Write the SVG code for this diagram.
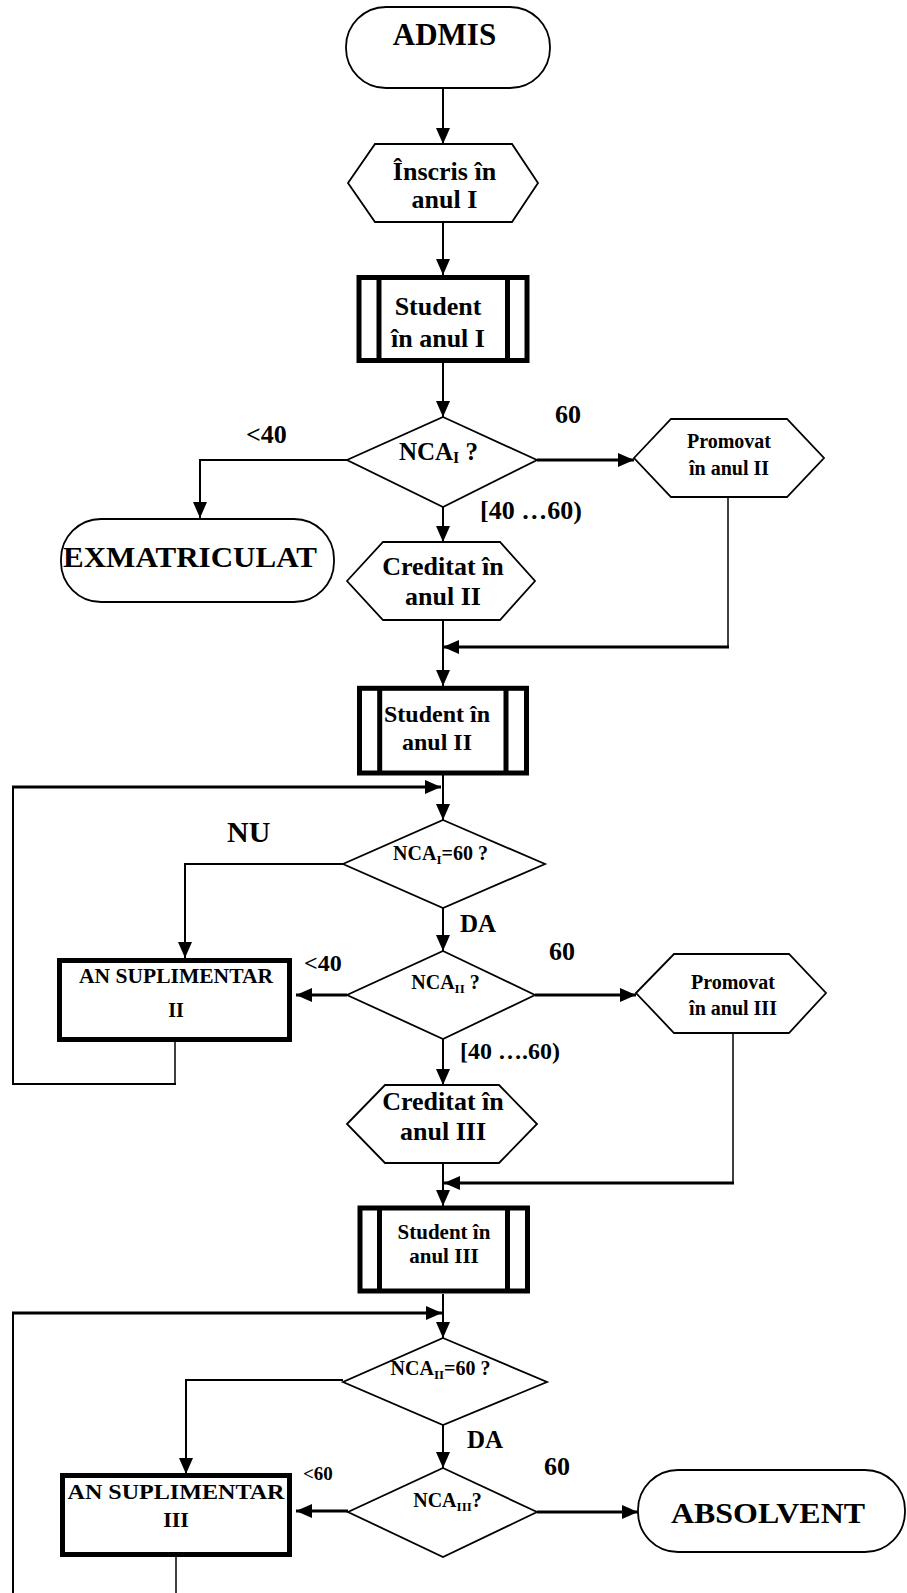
<svg xmlns="http://www.w3.org/2000/svg" width="907" height="1593" viewBox="0 0 907 1593">
<style>
.t{font-family:"Liberation Serif","Times New Roman",serif;font-weight:bold;fill:#000}
.m{text-anchor:middle}
.sh{fill:#fff;stroke:#000;stroke-width:1.8}
.box{fill:#fff;stroke:#000;stroke-width:5}
.bar{stroke:#000;stroke-width:5}
.c{fill:none;stroke:#000;stroke-width:2}
.ck{fill:none;stroke:#000;stroke-width:3}
.cn{fill:none;stroke:#000;stroke-width:1.5}
</style>
<defs>
<marker id="ah" markerUnits="userSpaceOnUse" markerWidth="16" markerHeight="14" refX="16" refY="7" orient="auto">
<path d="M0,0 L16,7 L0,14 z" fill="#000"/>
</marker>
</defs>
<rect width="907" height="1593" fill="#fff"/>

<g id="connectors">
<line class="c" x1="443" y1="88" x2="443" y2="144" marker-end="url(#ah)"/>
<line class="c" x1="443" y1="222" x2="443" y2="275" marker-end="url(#ah)"/>
<line class="c" x1="443" y1="363" x2="443" y2="417" marker-end="url(#ah)"/>
<polyline class="c" points="347,460 200,460 200,518" marker-end="url(#ah)"/>
<line class="ck" x1="537" y1="460" x2="634" y2="460" marker-end="url(#ah)"/>
<line class="c" x1="443" y1="507" x2="443" y2="542" marker-end="url(#ah)"/>
<line class="c" x1="443" y1="620" x2="443" y2="686" marker-end="url(#ah)"/>
<line class="cn" x1="728" y1="497" x2="728" y2="647"/>
<line class="ck" x1="729" y1="647" x2="443" y2="647" marker-end="url(#ah)"/>
<line class="c" x1="443" y1="775" x2="443" y2="820" marker-end="url(#ah)"/>
<polyline class="cn" points="175,1042 175,1084"/>
<polyline class="c" points="176,1084 13,1084 13,787"/>
<line class="ck" x1="12" y1="787" x2="441" y2="787" marker-end="url(#ah)"/>
<polyline class="c" points="343,864 185,864 185,958" marker-end="url(#ah)"/>
<line class="c" x1="443" y1="908" x2="443" y2="951" marker-end="url(#ah)"/>
<line class="ck" x1="347" y1="995" x2="296" y2="995" marker-end="url(#ah)"/>
<line class="ck" x1="535" y1="995" x2="636" y2="995" marker-end="url(#ah)"/>
<line class="c" x1="443" y1="1039" x2="443" y2="1085" marker-end="url(#ah)"/>
<line class="cn" x1="733" y1="1033" x2="733" y2="1183"/>
<line class="ck" x1="734" y1="1183" x2="444" y2="1183" marker-end="url(#ah)"/>
<line class="c" x1="443" y1="1163" x2="443" y2="1206" marker-end="url(#ah)"/>
<line class="c" x1="443" y1="1294" x2="443" y2="1338" marker-end="url(#ah)"/>
<line class="cn" x1="176" y1="1557" x2="176" y2="1593"/>
<line class="c" x1="13" y1="1593" x2="13" y2="1313"/>
<line class="ck" x1="12" y1="1313" x2="442" y2="1313" marker-end="url(#ah)"/>
<polyline class="c" points="343,1380 186,1380 186,1474" marker-end="url(#ah)"/>
<line class="c" x1="443" y1="1425" x2="443" y2="1468" marker-end="url(#ah)"/>
<line class="ck" x1="348" y1="1511" x2="296" y2="1511" marker-end="url(#ah)"/>
<line class="ck" x1="537" y1="1512" x2="638" y2="1512" marker-end="url(#ah)"/>
</g>

<g id="labels">
<text class="t" x="555" y="423" font-size="26">60</text>
<text class="t" x="246" y="443" font-size="26">&lt;40</text>
<text class="t" x="480" y="519" font-size="26">[40 …60)</text>
<text class="t" x="227" y="842" font-size="30">NU</text>
<text class="t" x="460" y="932" font-size="25">DA</text>
<text class="t" x="549" y="960" font-size="26">60</text>
<text class="t" x="304" y="971" font-size="24">&lt;40</text>
<text class="t" x="460" y="1059" font-size="24">[40 ….60)</text>
<text class="t" x="467" y="1448" font-size="25">DA</text>
<text class="t" x="544" y="1475" font-size="26">60</text>
<text class="t" x="303" y="1480" font-size="19">&lt;60</text>
</g>

<g id="admis">
<rect class="sh" x="346" y="7" width="204" height="81" rx="40" ry="40"/>
<text class="t m" x="444.5" y="45" font-size="31">ADMIS</text>
</g>

<g id="inscris">
<polygon class="sh" points="348,183 375,144 512,144 538,183 512,222 375,222"/>
<text class="t m" x="444.5" y="180" font-size="26">Înscris în</text>
<text class="t m" x="444.5" y="208" font-size="26">anul I</text>
</g>

<g id="student1">
<rect class="box" x="359" y="277.5" width="168" height="83"/>
<line class="bar" x1="379" y1="277.5" x2="379" y2="360.5"/>
<line class="bar" x1="507.5" y1="277.5" x2="507.5" y2="360.5"/>
<text class="t m" x="438" y="315" font-size="26">Student</text>
<text class="t m" x="438" y="347" font-size="26">în anul I</text>
</g>

<g id="nca1">
<polygon class="sh" points="443,417 537,460 443,507 347,460"/>
<text class="t m" x="438.5" y="460" font-size="25">NCA<tspan font-size="16" dy="3">I</tspan><tspan dy="-3"> ?</tspan></text>
</g>

<g id="exmatriculat">
<rect class="sh" x="61" y="519" width="273" height="83" rx="40" ry="40"/>
<text class="t m" x="190" y="567" font-size="30" textLength="254" lengthAdjust="spacingAndGlyphs">EXMATRICULAT</text>
</g>

<g id="creditat2">
<polygon class="sh" points="347,581 383,542 500,542 535,581 500,620 383,620"/>
<text class="t m" x="443" y="575" font-size="26">Creditat în</text>
<text class="t m" x="443" y="605" font-size="26">anul II</text>
</g>

<g id="promovat2">
<polygon class="sh" points="634,458 671,419 787,419 824,458 787,497 671,497"/>
<text class="t m" x="729" y="448" font-size="20">Promovat</text>
<text class="t m" x="729" y="475" font-size="20">în anul II</text>
</g>

<g id="student2">
<rect class="box" x="359.5" y="688.3" width="167" height="84.7"/>
<line class="bar" x1="379.7" y1="688.3" x2="379.7" y2="773"/>
<line class="bar" x1="506" y1="688.3" x2="506" y2="773"/>
<text class="t m" x="437" y="722" font-size="24">Student în</text>
<text class="t m" x="437" y="750" font-size="24">anul II</text>
</g>

<g id="nca1eq60">
<polygon class="sh" points="443,820 545,864 443,908 343,864"/>
<text class="t m" x="440.5" y="860" font-size="20">NCA<tspan font-size="13" dy="4">I</tspan><tspan dy="-4">=60 ?</tspan></text>
</g>

<g id="nca2">
<polygon class="sh" points="443,951 535,995 443,1039 347,995"/>
<text class="t m" x="445.5" y="989" font-size="20">NCA<tspan font-size="13" dy="4">II</tspan><tspan dy="-4"> ?</tspan></text>
</g>

<g id="ansupl2">
<rect class="box" x="59.5" y="960.5" width="230" height="79"/>
<text class="t m" x="176" y="983" font-size="20" textLength="194" lengthAdjust="spacingAndGlyphs">AN SUPLIMENTAR</text>
<text class="t m" x="176" y="1017" font-size="20">II</text>
</g>

<g id="promovat3">
<polygon class="sh" points="636,993 674,954 789,954 826,993 789,1033 674,1033"/>
<text class="t m" x="733" y="989" font-size="20">Promovat</text>
<text class="t m" x="733" y="1015" font-size="20">în anul III</text>
</g>

<g id="creditat3">
<polygon class="sh" points="347,1124 385,1085 499,1085 537,1124 499,1163 385,1163"/>
<text class="t m" x="443" y="1110" font-size="26">Creditat în</text>
<text class="t m" x="443" y="1140" font-size="26">anul III</text>
</g>

<g id="student3">
<rect class="box" x="360" y="1208" width="167.5" height="83"/>
<line class="bar" x1="379.5" y1="1208" x2="379.5" y2="1291"/>
<line class="bar" x1="507.5" y1="1208" x2="507.5" y2="1291"/>
<text class="t m" x="444" y="1239" font-size="21">Student în</text>
<text class="t m" x="444" y="1263" font-size="21">anul III</text>
</g>

<g id="nca2eq60">
<polygon class="sh" points="443,1338 547,1382 443,1425 343,1382"/>
<text class="t m" x="440.5" y="1375" font-size="20">NCA<tspan font-size="13" dy="4">II</tspan><tspan dy="-4">=60 ?</tspan></text>
</g>

<g id="nca3">
<polygon class="sh" points="443,1468 537,1512 443,1557 348,1512"/>
<text class="t m" x="447.5" y="1507" font-size="20">NCA<tspan font-size="13" dy="4">III</tspan><tspan dy="-4">?</tspan></text>
</g>

<g id="ansupl3">
<rect class="box" x="62.5" y="1475.5" width="227" height="79"/>
<text class="t m" x="176" y="1499" font-size="22" textLength="217" lengthAdjust="spacingAndGlyphs">AN SUPLIMENTAR</text>
<text class="t m" x="176" y="1527" font-size="22">III</text>
</g>

<g id="absolvent">
<rect class="sh" x="638" y="1470" width="267" height="82" rx="40" ry="40"/>
<text class="t m" x="768" y="1523" font-size="30" textLength="194" lengthAdjust="spacingAndGlyphs">ABSOLVENT</text>
</g>
</svg>
